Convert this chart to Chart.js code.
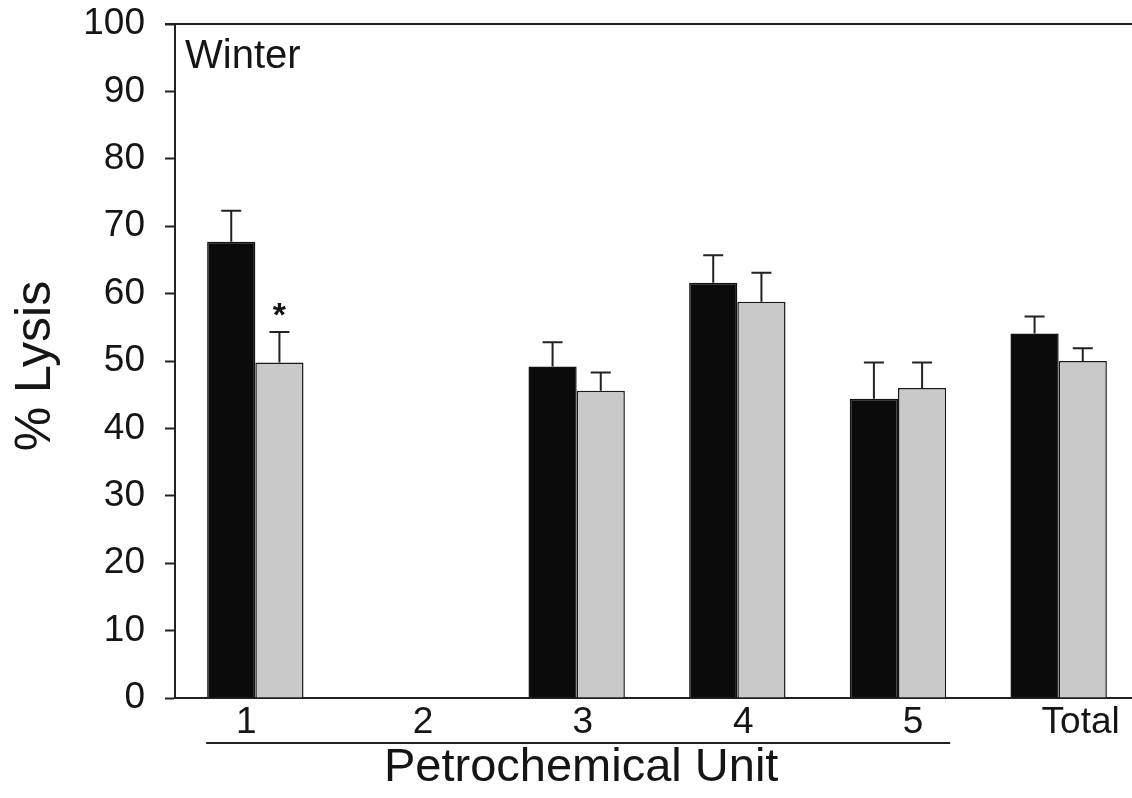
<!DOCTYPE html>
<html>
<head>
<meta charset="utf-8">
<script src="https://cdn.jsdelivr.net/npm/chart.js@4.4.1/dist/chart.umd.min.js"></script>
<style>
  html, body { margin: 0; padding: 0; background: #fff; overflow: hidden; }
  #wrap { position: relative; width: 1139px; height: 798px; }
</style>
</head>
<body>
<div id="wrap"><canvas id="chart"></canvas></div>
<script>
// Petrochemical units along the x axis
const units = ['1', '2', '3', '4', '5', 'Total'];

// % lysis, dark bars (mean and standard error)
const darkLysis = [67.7, null, 49.2, 61.6, 44.4, 54.1];
const darkSE    = [4.6,  null, 3.6,  4.1,  5.4,  2.5];

// % lysis, light bars (mean and standard error)
const lightLysis = [49.8, null, 45.6, 58.8, 46.0, 50.0];
const lightSE    = [4.5,  null, 2.7,  4.3,  3.8,  1.9];

// significant difference marker on the light bars
const lightSignificant = [true, false, false, false, false, false];

// y axis ticks
const yMin = 0, yMax = 100, yStep = 10;

// horizontal nudge of each unit label under its bars (px)
const labelShift = [-9, 7, 6, 6, 15, 22];

const FONT = '"Liberation Sans", Arial, Helvetica, sans-serif';
const INK = '#151515';
const LINE = '#222222';

const errorBars = {
  id: 'errorBars',
  afterDatasetsDraw(chart) {
    const ctx = chart.ctx;
    const y = chart.scales.y;
    const sets = [darkSE, lightSE];
    ctx.save();
    ctx.strokeStyle = LINE;
    ctx.lineWidth = 2;
    sets.forEach((se, di) => {
      const meta = chart.getDatasetMeta(di);
      const vals = chart.data.datasets[di].data;
      meta.data.forEach((bar, i) => {
        if (vals[i] == null || se[i] == null) return;
        const top = y.getPixelForValue(vals[i]);
        const cap = y.getPixelForValue(vals[i] + se[i]);
        ctx.beginPath();
        ctx.moveTo(bar.x, top);
        ctx.lineTo(bar.x, cap);
        ctx.moveTo(bar.x - 10, cap);
        ctx.lineTo(bar.x + 10, cap);
        ctx.stroke();
        if (di === 1 && lightSignificant[i]) {
          ctx.fillStyle = INK;
          ctx.font = 'bold 34px ' + FONT;
          ctx.textAlign = 'center';
          ctx.textBaseline = 'alphabetic';
          const m = ctx.measureText('*');
          const h = m.actualBoundingBoxAscent - m.actualBoundingBoxDescent;
          const cy = cap - 13;
          ctx.fillText('*', bar.x, cy + m.actualBoundingBoxAscent - h / 2);
        }
      });
    });
    ctx.restore();
  }
};

const decorations = {
  id: 'decorations',
  afterDraw(chart) {
    const ctx = chart.ctx;
    const area = chart.chartArea;
    const x = chart.scales.x;
    ctx.save();

    // frame line along the top
    ctx.strokeStyle = LINE;
    ctx.lineWidth = 2;
    ctx.beginPath();
    ctx.moveTo(area.left - 10, area.top);
    ctx.lineTo(chart.width, area.top);
    ctx.stroke();

    // unit labels
    ctx.fillStyle = INK;
    ctx.font = '37px ' + FONT;
    ctx.textAlign = 'center';
    ctx.textBaseline = 'alphabetic';
    units.forEach((u, i) => {
      ctx.fillText(u, x.getPixelForValue(i) + labelShift[i], area.bottom + 35);
    });

    // underline grouping units 1-5
    const first = chart.getDatasetMeta(0).data[0];
    const last = chart.getDatasetMeta(1).data[4];
    const uLeft = first.x - first.width / 2 - 1;
    const uRight = last.x + last.width / 2 + 4;
    ctx.beginPath();
    ctx.moveTo(uLeft, area.bottom + 45);
    ctx.lineTo(uRight, area.bottom + 45);
    ctx.stroke();

    // x axis title, centred under the units
    ctx.font = '47px ' + FONT;
    ctx.fillText('Petrochemical Unit', (uLeft + uRight) / 2 + 3, area.bottom + 83);

    // y axis title
    ctx.save();
    ctx.translate(50, (area.top + area.bottom) / 2 + 5);
    ctx.rotate(-Math.PI / 2);
    ctx.font = '50px ' + FONT;
    ctx.fillText('% Lysis', 0, 0);
    ctx.restore();

    // panel label
    ctx.textAlign = 'left';
    ctx.font = '40px ' + FONT;
    ctx.fillText('Winter', area.left + 10, area.top + 44);

    ctx.restore();
  }
};

new Chart(document.getElementById('chart'), {
  type: 'bar',
  data: {
    labels: units,
    datasets: [
      {
        data: darkLysis,
        backgroundColor: '#0b0b0b',
        borderColor: '#111111',
        borderWidth: 1.5
      },
      {
        data: lightLysis,
        backgroundColor: '#c9c9c9',
        borderColor: '#1a1a1a',
        borderWidth: 1.5
      }
    ]
  },
  options: {
    responsive: true,
    maintainAspectRatio: false,
    animation: false,
    layout: { padding: { top: 24, left: 0, right: 0, bottom: 0 } },
    plugins: {
      legend: { display: false },
      tooltip: { enabled: false }
    },
    datasets: {
      bar: { categoryPercentage: 0.6, barPercentage: 1.0 }
    },
    scales: {
      x: {
        grid: { display: false },
        border: { display: true, color: LINE, width: 2 },
        ticks: { display: false },
        afterFit(s) { s.height = 100; }
      },
      y: {
        min: yMin,
        max: yMax,
        ticks: {
          stepSize: yStep,
          color: INK,
          padding: 20,
          font: { family: FONT, size: 37, lineHeight: 0.22 }
        },
        grid: {
          display: true,
          drawOnChartArea: false,
          drawTicks: true,
          tickLength: 10,
          tickWidth: 2,
          tickColor: LINE,
          color: LINE
        },
        border: { display: true, color: LINE, width: 2 },
        afterFit(s) { s.width = 175; }
      }
    }
  },
  plugins: [errorBars, decorations]
});
</script>
</body>
</html>
